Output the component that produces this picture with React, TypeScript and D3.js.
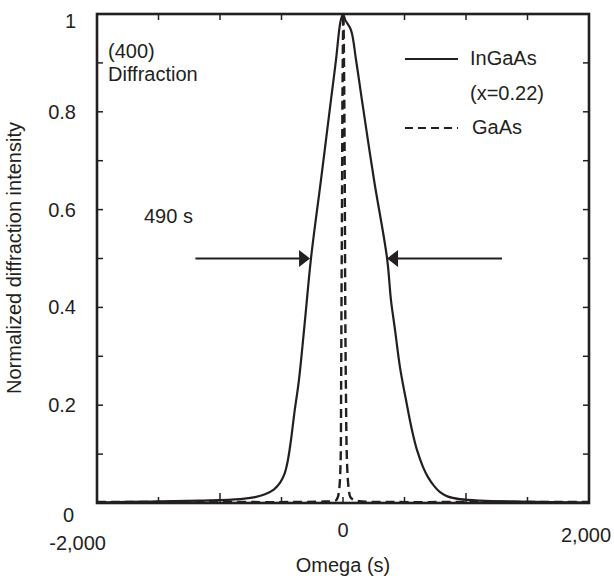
import React from "react";
import * as d3 from "d3";

// InGaAs (x=0.22) rocking curve: omega (s) vs normalized intensity
const ingaasOmega = [-2000, -1569, -1163, -837, -715, -634, -560, -510, -475, -450, -425, -395, -358, -309, -260, -179, -98, -57, -20, 0, 18, 65, 106, 154, 252, 358, 390, 423, 463, 512, 561, 602, 650, 691, 740, 789, 854, 951, 1114, 1439, 2000];
const ingaasIntensity = [0.001, 0.003, 0.005, 0.008, 0.012, 0.018, 0.028, 0.042, 0.06, 0.085, 0.125, 0.185, 0.252, 0.374, 0.501, 0.661, 0.824, 0.906, 0.985, 1.0, 0.988, 0.967, 0.906, 0.824, 0.661, 0.501, 0.415, 0.354, 0.278, 0.211, 0.149, 0.108, 0.074, 0.053, 0.035, 0.022, 0.013, 0.008, 0.005, 0.003, 0.001];

// GaAs substrate peak
const gaasOmega = [-2000, -1000, -400, -150, -80, -55, -42, -30, -20, -15, -12, -8, -4, 3, 10, 15, 18, 23, 33, 46, 60, 90, 160, 400, 1000, 2000];
const gaasIntensity = [0.002, 0.002, 0.002, 0.003, 0.004, 0.006, 0.012, 0.03, 0.08, 0.25, 0.42, 0.62, 0.84, 1.0, 0.84, 0.62, 0.42, 0.25, 0.08, 0.03, 0.012, 0.006, 0.003, 0.002, 0.002, 0.002];

const xTicks = [-1500, -1000, -500, 0, 500, 1000, 1500];
const yTicks = [0.1, 0.2, 0.3, 0.4, 0.5, 0.6, 0.7, 0.8, 0.9];
const yLabels = ["0.2", "0.4", "0.6", "0.8"];
const yLabelValues = [0.2, 0.4, 0.6, 0.8];

// FWHM arrows (omega start, omega tip, intensity)
const arrowLeft = [-1200, -268, 0.5];
const arrowRight = [1293, 358, 0.5];
const fwhmLabel = "490 s";

const FONT = "'Liberation Sans', Arial, Helvetica, sans-serif";
const INK = "#231f20";
const FS = 20;

export default function App() {
  const x = d3.scaleLinear().domain([-2000, 2000]).range([97, 589]);
  const y = d3.scaleLinear().domain([0, 1]).range([503, 14]);

  const line = d3
    .line<[number, number]>()
    .x((d) => x(d[0]))
    .y((d) => y(d[1]))
    .curve(d3.curveCatmullRom.alpha(0.5));

  const ingaas = line(ingaasOmega.map((o, i) => [o, ingaasIntensity[i]] as [number, number])) || "";
  const gaas = line(gaasOmega.map((o, i) => [o, gaasIntensity[i]] as [number, number])) || "";

  const arrow = (a: number[], key: string) => {
    const x0 = x(a[0]);
    const x1 = x(a[1]);
    const yy = y(a[2]);
    const dir = x1 > x0 ? 1 : -1;
    const hl = 11;
    const hw = 8.5;
    return (
      <g key={key}>
        <line x1={x0} y1={yy} x2={x1 - dir * hl} y2={yy} stroke={INK} strokeWidth={2} />
        <path d={`M${x1},${yy} L${x1 - dir * hl},${yy - hw} L${x1 - dir * hl},${yy + hw} Z`} fill={INK} />
      </g>
    );
  };

  return (
    <svg width={614} height={581} style={{ position: "absolute", left: 0, top: 0, background: "#fff" }} fontFamily={FONT}>
      <rect x={0} y={0} width={614} height={581} fill="#fff" />
      <defs>
        <clipPath id="plot">
          <rect x={97} y={12} width={492} height={492} />
        </clipPath>
      </defs>

      {/* curves */}
      <g clipPath="url(#plot)">
        <path d={gaas} fill="none" stroke={INK} strokeWidth={2.4} strokeDasharray="9,5" />
        <path d={ingaas} fill="none" stroke={INK} strokeWidth={2.2} />
      </g>

      {/* ticks */}
      {xTicks.map((t) => (
        <g key={"xt" + t}>
          <line x1={x(t)} x2={x(t)} y1={503} y2={503 - (Math.abs(t) === 1000 ? 10 : 6)} stroke={INK} strokeWidth={1.5} />
          <line x1={x(t)} x2={x(t)} y1={14} y2={20} stroke={INK} strokeWidth={1.5} />
        </g>
      ))}
      {yTicks.map((t) => (
        <g key={"yt" + t}>
          <line x1={97} x2={103} y1={y(t)} y2={y(t)} stroke={INK} strokeWidth={1.5} />
          <line x1={589} x2={583} y1={y(t)} y2={y(t)} stroke={INK} strokeWidth={1.5} />
        </g>
      ))}

      {/* frame */}
      <rect x={97} y={14} width={492} height={489} fill="none" stroke={INK} strokeWidth={2.6} />

      {/* y tick labels */}
      <g fontSize={FS} fill={INK} textAnchor="end">
        <text x={76} y={28}>1</text>
        {yLabels.map((l, i) => (
          <text key={l} x={76} y={y(yLabelValues[i]) + 7}>{l}</text>
        ))}
        <text x={74} y={522}>0</text>
      </g>

      {/* x tick labels */}
      <g fontSize={FS} fill={INK}>
        <text x={106} y={550} textAnchor="end">-2,000</text>
        <text x={x(0)} y={537} textAnchor="middle">0</text>
        <text x={586} y={542} textAnchor="middle">2,000</text>
      </g>

      {/* axis titles */}
      <text x={343} y={572} fontSize={FS} fill={INK} textAnchor="middle">Omega  (s)</text>
      <text transform="translate(21,258) rotate(-90)" fontSize={FS} fill={INK} textAnchor="middle">
        Normalized diffraction intensity
      </text>

      {/* annotations */}
      <g fontSize={FS} fill={INK}>
        <text x={108} y={58}>(400)</text>
        <text x={108} y={81}>Diffraction</text>
        <text x={144} y={223}>{fwhmLabel}</text>
      </g>
      {arrow(arrowLeft, "al")}
      {arrow(arrowRight, "ar")}

      {/* legend */}
      <line x1={405} x2={458} y1={59} y2={59} stroke={INK} strokeWidth={2.2} />
      <line x1={405} x2={458} y1={128} y2={128} stroke={INK} strokeWidth={2.2} strokeDasharray="8,5" />
      <g fontSize={FS} fill={INK}>
        <text x={470} y={65}>InGaAs</text>
        <text x={470} y={100}>(x=0.22)</text>
        <text x={472} y={134}>GaAs</text>
      </g>
    </svg>
  );
}
